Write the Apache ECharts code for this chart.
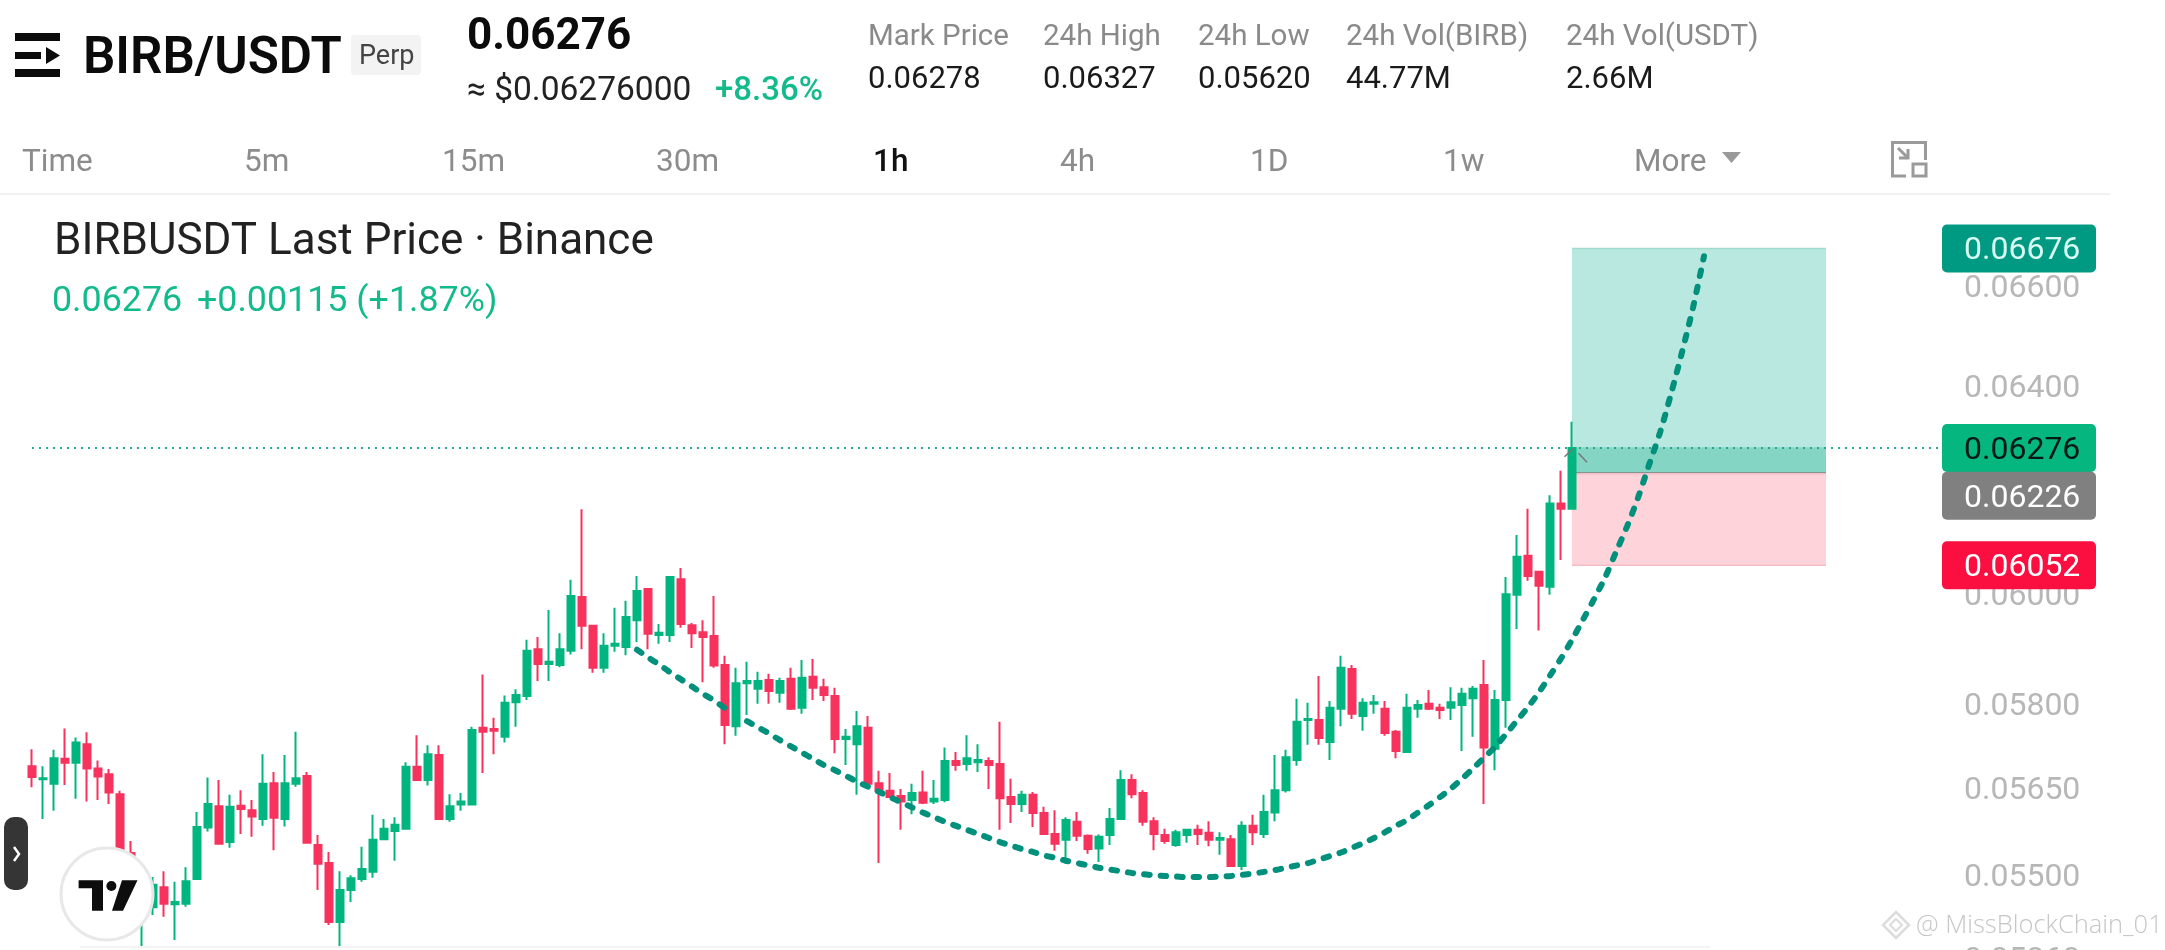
<!DOCTYPE html>
<html>
<head>
<meta charset="utf-8">
<style>html,body{margin:0;padding:0;background:#fff}#c{width:2165px;height:950px}</style>
<script src="https://cdn.jsdelivr.net/npm/echarts@6/dist/echarts.min.js"></script>
</head>
<body>
<div id="c"></div>
<script>
const opens=[0.05687,0.05664,0.05656,0.05700,0.05693,0.05726,0.05683,0.05673,0.05638,0.05536,0.05456,0.05444,0.05478,0.05449,0.05450,0.05492,0.05580,0.05617,0.05555,0.05618,0.05610,0.05595,0.05657,0.05595,0.05656,0.05670,0.05550,0.05519,0.05419,0.05473,0.05492,0.05504,0.05560,0.05574,0.05578,0.05686,0.05663,0.05707,0.05595,0.05620,0.05620,0.05755,0.05753,0.05739,0.05801,0.05812,0.05897,0.05870,0.05868,0.05894,0.05993,0.05940,0.05863,0.05903,0.05901,0.05950,0.06008,0.05923,0.05923,0.06026,0.05941,0.05928,0.05921,0.05868,0.05758,0.05835,0.05825,0.05841,0.05818,0.05843,0.05791,0.05847,0.05828,0.05812,0.05735,0.05726,0.05755,0.05657,0.05644,0.05635,0.05628,0.05641,0.05625,0.05628,0.05696,0.05691,0.05694,0.05696,0.05691,0.05633,0.05621,0.05637,0.05605,0.05569,0.05559,0.05590,0.05566,0.05544,0.05567,0.05595,0.05663,0.05640,0.05591,0.05567,0.05550,0.05567,0.05576,0.05571,0.05559,0.05560,0.05514,0.05583,0.05569,0.05606,0.05645,0.05698,0.05769,0.05769,0.05730,0.05789,0.05861,0.05776,0.05798,0.05789,0.05748,0.05712,0.05789,0.05798,0.05791,0.05791,0.05796,0.05808,0.05832,0.05718,0.05805,0.05997,0.06070,0.06040,0.06012,0.06169,0.06159];
const highs=[0.05717,0.05687,0.05716,0.05754,0.05738,0.05747,0.05697,0.05682,0.05644,0.05557,0.05490,0.05495,0.05505,0.05487,0.05512,0.05607,0.05667,0.05663,0.05637,0.05645,0.05628,0.05708,0.05677,0.05707,0.05748,0.05677,0.05567,0.05538,0.05505,0.05498,0.05547,0.05602,0.05595,0.05598,0.05694,0.05742,0.05724,0.05724,0.05638,0.05640,0.05757,0.05851,0.05773,0.05813,0.05824,0.05914,0.05919,0.05969,0.05926,0.06025,0.06158,0.05940,0.05926,0.05973,0.05986,0.06032,0.06008,0.05943,0.06030,0.06047,0.05945,0.05950,0.05995,0.05885,0.05863,0.05874,0.05856,0.05852,0.05845,0.05863,0.05877,0.05879,0.05843,0.05827,0.05753,0.05785,0.05776,0.05679,0.05675,0.05647,0.05656,0.05679,0.05663,0.05720,0.05712,0.05742,0.05726,0.05703,0.05766,0.05665,0.05644,0.05642,0.05616,0.05610,0.05598,0.05607,0.05568,0.05568,0.05614,0.05680,0.05673,0.05645,0.05598,0.05578,0.05576,0.05576,0.05585,0.05591,0.05572,0.05567,0.05591,0.05602,0.05637,0.05707,0.05716,0.05807,0.05800,0.05848,0.05803,0.05885,0.05868,0.05808,0.05814,0.05803,0.05751,0.05816,0.05805,0.05823,0.05798,0.05828,0.05827,0.05830,0.05877,0.05823,0.06030,0.06109,0.06159,0.06042,0.06185,0.06232,0.06327];
const lows=[0.05650,0.05595,0.05609,0.05654,0.05630,0.05625,0.05628,0.05621,0.05536,0.05423,0.05378,0.05431,0.05428,0.05389,0.05445,0.05492,0.05573,0.05551,0.05545,0.05569,0.05564,0.05583,0.05541,0.05582,0.05651,0.05554,0.05473,0.05414,0.05378,0.05453,0.05487,0.05494,0.05559,0.05523,0.05578,0.05663,0.05653,0.05594,0.05590,0.05609,0.05620,0.05675,0.05708,0.05729,0.05757,0.05805,0.05839,0.05839,0.05864,0.05887,0.05897,0.05854,0.05854,0.05892,0.05886,0.05910,0.05897,0.05907,0.05910,0.05936,0.05899,0.05837,0.05863,0.05726,0.05741,0.05778,0.05798,0.05798,0.05800,0.05787,0.05780,0.05805,0.05803,0.05710,0.05689,0.05637,0.05654,0.05519,0.05633,0.05576,0.05603,0.05621,0.05621,0.05624,0.05679,0.05679,0.05677,0.05647,0.05576,0.05588,0.05607,0.05581,0.05569,0.05540,0.05518,0.05557,0.05535,0.05521,0.05550,0.05595,0.05631,0.05583,0.05541,0.05552,0.05547,0.05554,0.05550,0.05548,0.05533,0.05514,0.05507,0.05550,0.05562,0.05591,0.05641,0.05688,0.05725,0.05725,0.05698,0.05758,0.05771,0.05750,0.05780,0.05741,0.05701,0.05712,0.05773,0.05787,0.05771,0.05769,0.05714,0.05739,0.05621,0.05680,0.05755,0.05934,0.06023,0.05931,0.05997,0.06062,0.06158];
const closes=[0.05668,0.05666,0.05701,0.05693,0.05729,0.05683,0.05669,0.05641,0.05536,0.05465,0.05482,0.05482,0.05450,0.05453,0.05488,0.05581,0.05621,0.05552,0.05616,0.05612,0.05599,0.05656,0.05597,0.05657,0.05666,0.05554,0.05518,0.05419,0.05473,0.05493,0.05509,0.05559,0.05578,0.05585,0.05686,0.05663,0.05708,0.05595,0.05617,0.05625,0.05751,0.05748,0.05750,0.05800,0.05814,0.05894,0.05870,0.05874,0.05897,0.05995,0.05940,0.05863,0.05903,0.05907,0.05956,0.06004,0.05925,0.05927,0.06030,0.05943,0.05926,0.05919,0.05867,0.05760,0.05835,0.05839,0.05839,0.05821,0.05839,0.05789,0.05845,0.05827,0.05814,0.05735,0.05739,0.05758,0.05656,0.05644,0.05633,0.05625,0.05640,0.05623,0.05630,0.05696,0.05689,0.05701,0.05698,0.05689,0.05631,0.05621,0.05637,0.05605,0.05569,0.05552,0.05593,0.05566,0.05543,0.05564,0.05595,0.05663,0.05638,0.05590,0.05569,0.05557,0.05572,0.05576,0.05569,0.05559,0.05562,0.05514,0.05583,0.05572,0.05607,0.05645,0.05703,0.05766,0.05771,0.05737,0.05791,0.05863,0.05780,0.05800,0.05801,0.05746,0.05714,0.05791,0.05796,0.05789,0.05787,0.05801,0.05816,0.05825,0.05720,0.05805,0.05998,0.06068,0.06032,0.06014,0.06169,0.06159,0.06276];

const curveStart=55;
const curve=[0.05896,0.05882,0.05869,0.05855,0.05842,0.05829,0.05816,0.05804,0.05790,null,0.05767,0.05756,0.05745,0.05733,0.05722,0.05711,0.05700,0.05689,0.05680,0.05670,0.05660,0.05651,0.05642,0.05633,0.05624,0.05615,0.05606,0.05598,0.05590,0.05583,0.05576,0.05569,0.05562,0.05555,0.05549,0.05543,0.05538,0.05532,0.05528,0.05523,0.05519,0.05515,0.05511,0.05508,0.05505,0.05502,0.05500,0.05498,0.05497,0.05496,0.05495,0.05495,0.05495,0.05496,0.05497,0.05499,0.05501,0.05504,0.05507,0.05511,0.05515,0.05519,0.05525,0.05531,0.05537,0.05545,0.05553,0.05562,0.05572,0.05583,0.05593,0.05606,0.05619,0.05633,0.05648,0.05665,0.05683,0.05702,0.05721,0.05744,0.05768,0.05792,0.05819,0.05849,0.05880,0.05914,0.05951,0.05989,0.06029,0.06077,0.06125,0.06180,0.06243,0.06306,0.06382,0.06465,0.06555,0.06660];

const tickLabels=[0.066,0.064,0.06,0.058,0.0565,0.055,0.0536];
const lastPrice=0.06276, targetPrice=0.06676, entryPrice=0.06226, stopPrice=0.06052;
const boxStart=140, boxEnd=163;
const statNames=['Mark Price','24h High','24h Low','24h Vol(BIRB)','24h Vol(USDT)'];
const statValues=['0.06278','0.06327','0.05620','44.77M','2.66M'];
const tabs=['Time','5m','15m','30m','1h','4h','1D','1w','More'];

const slots=Array.from({length:175},(_,i)=>String(i));
const FONT='Roboto, "Noto Sans", sans-serif';
const candleData=opens.map((o,i)=>[o,closes[i],lows[i],highs[i]]);
const curveData=slots.map((_,i)=>{const v=curve[i-curveStart];return v===undefined?null:v;});

const statX=[868,1043,1198,1346,1566];
const tabX=[22,244,442,656,873,1060,1250,1443,1634];
const txt=(text,x,y,size,fill,weight,family)=>({type:'text',z:100,silent:true,style:{text,x,y,fill,font:(weight||400)+' '+size+'px '+(family||FONT),verticalAlign:'middle',align:'left'}});
const poly=(points,fill)=>({type:'polygon',z:101,silent:true,shape:{points},style:{fill}});
const stroke=(points,color,w)=>({type:'polyline',z:101,silent:true,shape:{points},style:{fill:'none',stroke:color,lineWidth:w}});
const elems=[];
elems.push({type:'rect',z:100,shape:{x:15,y:33,width:45,height:8},style:{fill:'#0b0b0b'}});
elems.push({type:'rect',z:100,shape:{x:15,y:52,width:26,height:7},style:{fill:'#0b0b0b'}});
elems.push(poly([[46,47],[60,55.5],[46,64]],'#0b0b0b'));
elems.push({type:'rect',z:100,shape:{x:15,y:69,width:45,height:8},style:{fill:'#0b0b0b'}});
elems.push(txt('BIRB/USDT',83,60,51,'#0b0b0b',600));
elems.push({type:'rect',z:99,shape:{x:351,y:35,width:70,height:40,r:4},style:{fill:'#f3f3f3'}});
elems.push(txt('Perp',359,57,27,'#444',400));
elems.push(txt('0.06276',467,38,44,'#0b0b0b',700));
elems.push(txt('≈ $0.06276000',467,92,33.5,'#222',400));
elems.push(txt('+8.36%',715,92,33,'#13bb8c',500));
statNames.forEach((s,i)=>elems.push(txt(s,statX[i],38,29.5,'#8a8a8a',400)));
statValues.forEach((s,i)=>elems.push(txt(s,statX[i],80,31,'#1a1a1a',400)));
tabs.forEach((s,i)=>elems.push(txt(s,tabX[i],163,31.5,s==='1h'?'#111':'#8c8c8c',s==='1h'?500:400)));
elems.push(poly([[1722,152],[1741,152],[1731.5,163]],'#999'));
elems.push(stroke([[1906,176],[1892.5,176],[1892.5,142.5],[1925.5,142.5],[1925.5,160]],'#9a9a9a',3));
elems.push({type:'rect',z:101,shape:{x:1913,y:164,width:13,height:12},style:{fill:'#fff',stroke:'#9a9a9a',lineWidth:3}});
elems.push(stroke([[1898,148],[1908,158]],'#9a9a9a',3));
elems.push(stroke([[1908,149],[1908,158],[1899,158]],'#9a9a9a',3));
elems.push({type:'line',z:100,shape:{x1:0,y1:194,x2:2110,y2:194},style:{stroke:'#f1f1f1',lineWidth:2}});
elems.push(txt('BIRBUSDT Last Price · Binance',54,243,44,'#222',400));
elems.push(txt('0.06276',52,302,35.8,'#13bb8c',400));
elems.push(txt('+0.00115 (+1.87%)',197,302,35.8,'#13bb8c',400));
elems.push({type:'rect',z:100,shape:{x:4,y:817,width:24,height:73,r:10},style:{fill:'#353535'}});
elems.push(stroke([[14,847],[19,854],[14,861]],'#fff',2.5));
elems.push({type:'circle',z:100,shape:{cx:107,cy:894,r:46},style:{fill:'#fff',stroke:'#e8e8e8',lineWidth:3}});
elems.push(poly([[78.6,880.3],[103,880.3],[103,910.7],[92,910.7],[92,888.3],[78.6,888.3]],'#0d0d0d'));
elems.push({type:'circle',z:101,shape:{cx:111.4,cy:886,r:5},style:{fill:'#0d0d0d'}});
elems.push(poly([[122,880.3],[137.5,880.3],[123,910.7],[112,910.7]],'#0d0d0d'));
elems.push({type:'line',z:50,shape:{x1:1564.5,y1:456.7,x2:1573,y2:448.7},style:{stroke:'#777',lineWidth:1.5}});
elems.push({type:'line',z:50,shape:{x1:1578.5,y1:453.3,x2:1587,y2:462.3},style:{stroke:'#777',lineWidth:1.5}});
elems.push({type:'polygon',z:100,shape:{points:[[1896,912],[1909,925],[1896,938],[1883,925]]},style:{fill:'none',stroke:'#dcdcdc',lineWidth:2.5}});
elems.push({type:'polygon',z:100,shape:{points:[[1896,919],[1902,925],[1896,931],[1890,925]]},style:{fill:'none',stroke:'#dcdcdc',lineWidth:2}});
elems.push(txt('@ MissBlockChain_01',1916,926,25.5,'#c6c6c6',300,'"Open Sans", Roboto, sans-serif'));
elems.push({type:'line',z:100,shape:{x1:80,y1:947,x2:1710,y2:947},style:{stroke:'#f3f3f3',lineWidth:2}});

const chart=echarts.init(document.getElementById('c'),null,{renderer:'canvas',width:2165,height:950});
const zones=[[boxStart,boxEnd,targetPrice,entryPrice,'#b8e8df','#a3dccf'],[boxStart,boxEnd,lastPrice,entryPrice,'#85d5c4','#85d5c4'],[boxStart,boxEnd,entryPrice,stopPrice,'#ffd3da','#f3bcc6']];
const tags=[[targetPrice,'#009a82','#d8fbf4',0],[lastPrice,'#06b67f','#061a14',0],[entryPrice,'#808080','#ffffff',22],[stopPrice,'#fb0f40','#ffffff',0]];
chart.setOption({
  animation:false,
  backgroundColor:'#fff',
  grid:{left:26.5,top:196,width:1925,height:774,containLabel:false,outerBoundsMode:'none'},
  xAxis:{type:'category',data:slots,show:false,boundaryGap:true},
  yAxis:{type:'log',logBase:10,min:0.053392,max:0.067854,position:'right',splitLine:{show:false},axisLine:{show:false},axisTick:{show:false},minorTick:{show:false},minorSplitLine:{show:false},
    axisLabel:{customValues:tickLabels,formatter:v=>Number(v).toFixed(5),color:'#b7b7b7',fontFamily:FONT,fontSize:32,verticalAlign:'top',lineHeight:8,margin:12.5,hideOverlap:false,showMinLabel:true,showMaxLabel:true}},
  series:[
    {type:'custom',z:1,silent:true,clip:false,data:zones,encode:{x:[0,1],y:[2,3]},
     renderItem:(p,api)=>{
       const a=api.coord([api.value(0),api.value(2)]),b=api.coord([api.value(1),api.value(3)]);
       const d=zones[p.dataIndex];
       return {type:'group',children:[
         {type:'rect',shape:{x:a[0],y:a[1],width:b[0]-a[0]+1,height:b[1]-a[1]},style:{fill:d[4]}},
         {type:'line',shape:{x1:a[0],y1:a[1],x2:b[0]+1,y2:a[1]},style:{stroke:d[5],lineWidth:1.5}},
         {type:'line',shape:{x1:a[0],y1:b[1],x2:b[0]+1,y2:b[1]},style:{stroke:p.dataIndex===2?d[5]:'#808080',lineWidth:p.dataIndex===2?1.5:3}}
       ]};
     }},
    {type:'line',z:2,silent:true,data:slots.map(()=>lastPrice),showSymbol:false,lineStyle:{type:[2,5],color:'#2aa58f',width:2}},
    {type:'candlestick',z:2,silent:true,barWidth:8,data:candleData,
     itemStyle:{color:'#00b57f',color0:'#f7335d',borderColor:'#00b57f',borderColor0:'#f7335d',borderWidth:2}},
    {type:'line',z:3,silent:true,data:curveData,showSymbol:false,smooth:0.3,connectNulls:false,lineStyle:{color:'#00907c',width:6,type:[5.5,11],cap:'round'}},
    {type:'custom',z:5,silent:true,clip:false,data:tags.map(t=>[0,t[0]]),encode:{x:0,y:1},
     renderItem:(p,api)=>{
       const t=tags[p.dataIndex];
       const y=api.coord([0,api.value(1)])[1]+t[3];
       return {type:'group',children:[
         {type:'rect',shape:{x:1942,y:y-24,width:154,height:48,r:5},style:{fill:t[1]}},
         {type:'text',style:{x:1964,y:y+3,text:t[0].toFixed(5),fill:t[2],font:'400 32px '+FONT,verticalAlign:'middle',align:'left'}}
       ]};
     }}
  ],
  graphic:{elements:elems}
});
</script>
</body>
</html>
